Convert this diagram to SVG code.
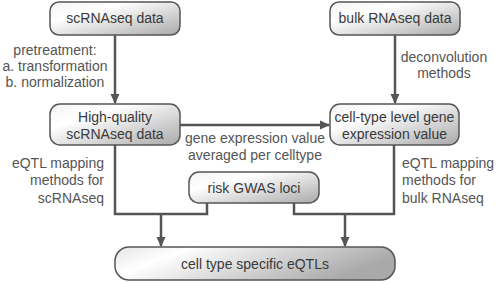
<svg xmlns="http://www.w3.org/2000/svg" width="498" height="283" viewBox="0 0 498 283">
<defs>
<linearGradient id="g" x1="0" y1="0" x2="1" y2="1">
<stop offset="0" stop-color="#f4f4f4"/>
<stop offset="0.3" stop-color="#ffffff"/>
<stop offset="1" stop-color="#a9a9a9"/>
</linearGradient>
<linearGradient id="g2" x1="0" y1="0" x2="1" y2="0.3">
<stop offset="0" stop-color="#e6e6e6"/>
<stop offset="0.25" stop-color="#ffffff"/>
<stop offset="1" stop-color="#a9a9a9"/>
</linearGradient>
<marker id="ah" markerWidth="10" markerHeight="10" refX="9" refY="5" orient="auto" markerUnits="userSpaceOnUse">
<path d="M0,0.5 L10,5 L0,9.5 Z" fill="#555"/>
</marker>
</defs>
<style>
.box{fill:url(#g);stroke:#555;stroke-width:1.5}
.nt{font-family:"Liberation Sans",Arial,sans-serif;font-size:14px;fill:#3a3a3a;text-anchor:middle}
.lb{font-family:"Liberation Sans",Arial,sans-serif;font-size:14px;fill:#555}
.c{fill:none;stroke:#555;stroke-width:2.5}
</style>
<rect width="498" height="283" fill="#fff"/>
<g id="connectors">
<line class="c" x1="115" y1="35" x2="115" y2="103" marker-end="url(#ah)"/>
<line class="c" x1="395" y1="35" x2="395" y2="103" marker-end="url(#ah)"/>
<line class="c" x1="180" y1="125" x2="329" y2="125" marker-end="url(#ah)"/>
<path class="c" d="M115,145 V214 H207 V203"/>
<path class="c" d="M394,145 V214 H294 V203"/>
<line class="c" x1="161" y1="214" x2="161" y2="246" marker-end="url(#ah)"/>
<line class="c" x1="345" y1="214" x2="345" y2="246" marker-end="url(#ah)"/>
</g>
<g id="labels">
<text class="lb" text-anchor="middle"><tspan x="55" y="55">pretreatment:</tspan><tspan x="55" y="71">a. transformation</tspan><tspan x="55" y="87">b. normalization</tspan></text>
<text class="lb" text-anchor="middle"><tspan x="444" y="62">deconvolution</tspan><tspan x="444" y="78">methods</tspan></text>
<text class="lb" text-anchor="middle"><tspan x="255" y="143">gene expression value</tspan><tspan x="255" y="160">averaged per celltype</tspan></text>
<text class="lb" text-anchor="end"><tspan x="104" y="168">eQTL mapping</tspan><tspan x="104" y="185">methods for</tspan><tspan x="104" y="203">scRNAseq</tspan></text>
<text class="lb" text-anchor="start"><tspan x="402" y="168">eQTL mapping</tspan><tspan x="402" y="185">methods for</tspan><tspan x="402" y="203">bulk RNAseq</tspan></text>
</g>
<g id="n1">
<rect class="box" x="50" y="2" width="130" height="33" rx="9"/>
<text class="nt" x="115" y="23">scRNAseq data</text>
</g>
<g id="n2">
<rect class="box" x="330" y="2" width="130" height="33" rx="9"/>
<text class="nt" x="395" y="23">bulk RNAseq data</text>
</g>
<g id="n3">
<rect class="box" x="50" y="104" width="130" height="41" rx="10"/>
<text class="nt"><tspan x="115" y="122">High-quality</tspan><tspan x="115" y="139">scRNAseq data</tspan></text>
</g>
<g id="n4">
<rect class="box" x="330" y="104" width="129" height="41" rx="10"/>
<text class="nt"><tspan x="394.5" y="122">cell-type level gene</tspan><tspan x="394.5" y="139">expression value</tspan></text>
</g>
<g id="n5">
<rect class="box" x="189" y="172" width="130" height="31" rx="10"/>
<text class="nt" x="254" y="193">risk GWAS loci</text>
</g>
<g id="n6">
<rect class="box" style="fill:url(#g2)" x="115" y="247" width="280" height="33" rx="14"/>
<text class="nt" x="255" y="269">cell type specific eQTLs</text>
</g>
</svg>
